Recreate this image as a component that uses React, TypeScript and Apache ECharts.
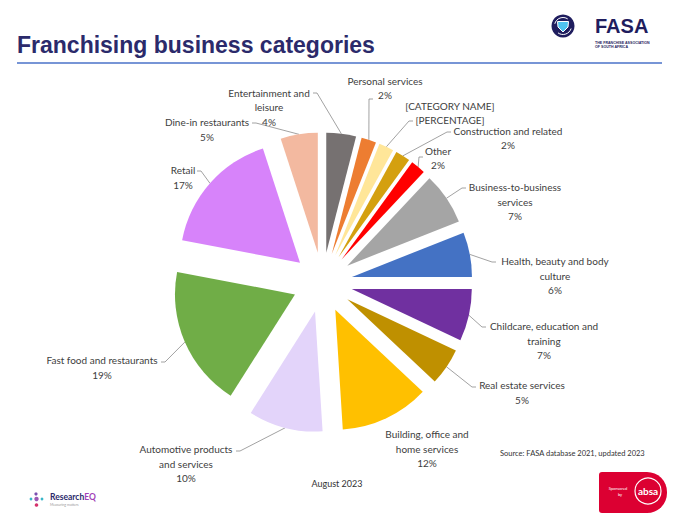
import React, { useEffect, useRef } from "react";
import * as echarts from "echarts";

// ---------- data ----------
const categories = [
  "Entertainment and leisure",
  "Personal services",
  "[CATEGORY NAME]",
  "Construction and related",
  "Other",
  "Business-to-business services",
  "Health, beauty and body culture",
  "Childcare, education and training",
  "Real estate services",
  "Building, office and home services",
  "Automotive products and services",
  "Fast food and restaurants",
  "Retail",
  "Dine-in restaurants",
];
const values = [4, 2, 2, 2, 2, 7, 6, 7, 5, 12, 10, 19, 17, 5];
const labelNames = [
  "Entertainment and\nleisure",
  "Personal services",
  "[CATEGORY NAME]",
  "Construction and related",
  "Other",
  "Business-to-business\nservices",
  "Health, beauty and body\nculture",
  "Childcare, education and\ntraining",
  "Real estate services",
  "Building, office and\nhome services",
  "Automotive products\nand services",
  "Fast food and restaurants",
  "Retail",
  "Dine-in restaurants",
];
const colors = [
  "#767171", "#ED7D31", "#FFE699", "#D4A00F", "#FF0000", "#A5A5A5", "#4472C4",
  "#7030A0", "#BF9000", "#FFC000", "#E3D4FA", "#70AD47", "#D783FA", "#F3B9A0",
];
// label layout: [centreX, topY, leaderEndX, leaderEndY] (no leader when null)
const labelPlacement: (number | null)[][] = [
  [269, 85.5, 313, 93],
  [385, 73.5, 373, 99],
  [450, 98.5, 413, 121],
  [508, 123.5, 451, 132],
  [438, 143.5, 423, 157],
  [515, 180, 466, 188],
  [555, 254, 496, 262],
  [544, 319, 486, 327],
  [522, 378, 476, 387],
  [427, 427, null, null],
  [186, 442, 236, 451],
  [102, 353, 161, 362],
  [183, 163, 197, 171],
  [207, 115, 252, 123],
];

const CX = 322.5;
const CY = 282.5;
const R = 120;
const OFFSET = 30;

const FONT = "Lato, 'Noto Sans', sans-serif";

export default function App() {
  const ref = useRef<HTMLDivElement>(null);

  useEffect(() => {
    if (!ref.current) return;
    const chart = echarts.init(ref.current, undefined, { renderer: "svg" });
    const total = values.reduce((a, b) => a + b, 0);

    // one pie series per exploded slice, shifted along its own mid-angle
    const series = categories.map((name, i) => {
      let cum = 0;
      for (let j = 0; j < i; j++) cum += values[j];
      const mid = ((cum + values[i] / 2) / total) * 2 * Math.PI;
      const dx = OFFSET * Math.sin(mid);
      const dy = -OFFSET * Math.cos(mid);
      const ax = CX + (R + OFFSET) * Math.sin(mid);
      const ay = CY - (R + OFFSET) * Math.cos(mid);
      const p = labelPlacement[i];
      const hasLine = p[2] != null;
      return {
        type: "pie",
        name,
        center: [CX + dx, CY + dy],
        radius: R,
        startAngle: 90 - (cum / total) * 360,
        clockwise: true,
        avoidLabelOverlap: false,
        emphasis: { disabled: true },
        itemStyle: { borderWidth: 0 },
        label: {
          show: true,
          position: "outside",
          fontFamily: FONT,
          fontSize: 10,
          lineHeight: 14.5,
          color: "#404040",
          align: "center",
          formatter: () => {
            const pct = name === "[CATEGORY NAME]" ? "[PERCENTAGE]" : values[i] + "%";
            return labelNames[i] + "\n" + pct;
          },
        },
        labelLine: {
          show: hasLine,
          length: 10,
          length2: 10,
          lineStyle: { color: "#8a8a8a", width: 0.8 },
        },
        labelLayout: (params: any) => {
          if (params.dataIndex !== 0) return {};
          const res: any = {
            x: p[0],
            y: p[1],
            align: "center",
            verticalAlign: "top",
          };
          if (hasLine) {
            const s = Math.sign(ax - (p[2] as number));
            res.labelLinePoints = [
              [ax, ay],
              [(p[2] as number) + 4 * s, p[3]],
              [p[2], p[3]],
            ];
          }
          return res;
        },
        data: [
          { name, value: values[i], itemStyle: { color: colors[i] } },
          {
            name: "",
            value: total - values[i],
            itemStyle: { color: "rgba(0,0,0,0)" },
            label: { show: false },
            labelLine: { show: false },
            tooltip: { show: false },
          },
        ],
      };
    });

    const option: any = {
      animation: false,
      backgroundColor: "#ffffff",
      series,
      graphic: [
        {
          type: "text",
          x: 17,
          y: 45,
          style: {
            text: "Franchising business categories",
            font: "bold 23px 'Liberation Sans', Arial, sans-serif",
            fill: "#2B2A6B",
            verticalAlign: "middle",
          },
        },
        {
          type: "line",
          shape: { x1: 17, y1: 63, x2: 662, y2: 63 },
          style: { stroke: "#4A72C8", lineWidth: 1.5 },
        },
        // FASA logo
        { type: "circle", shape: { cx: 563, cy: 26, r: 11.5 }, style: { fill: "#1F1D5E" } },
        {
          type: "arc",
          shape: { cx: 563, cy: 26, r: 8.5, startAngle: 0.3, endAngle: 2.2 },
          style: { stroke: "#ffffff", lineWidth: 1, fill: "none" },
        },
        {
          type: "arc",
          shape: { cx: 563, cy: 26, r: 8.5, startAngle: 3.4, endAngle: 5.3 },
          style: { stroke: "#ffffff", lineWidth: 1, fill: "none" },
        },
        {
          type: "polygon",
          shape: { points: [[557.5, 21.5], [568.5, 21.5], [568, 27], [563, 32], [558, 27]] },
          style: { fill: "#4FC3F0", stroke: "#ffffff", lineWidth: 1 },
        },
        {
          type: "text",
          x: 595,
          y: 26,
          style: {
            text: "FASA",
            font: "bold 20px 'Liberation Sans', Arial, sans-serif",
            fill: "#1F1D5E",
            verticalAlign: "middle",
          },
        },
        {
          type: "text",
          x: 595,
          y: 41,
          style: {
            text: "THE FRANCHISE ASSOCIATION\nOF SOUTH AFRICA",
            font: "bold 3.6px 'Liberation Sans', Arial, sans-serif",
            lineHeight: 4,
            fill: "#1F1D5E",
          },
        },
        // footer texts
        {
          type: "text",
          x: 337,
          y: 483,
          style: {
            text: "August 2023",
            font: "9px " + FONT,
            fill: "#333333",
            align: "center",
            verticalAlign: "middle",
          },
        },
        {
          type: "text",
          x: 500,
          y: 453,
          style: {
            text: "Source: FASA database 2021, updated 2023",
            font: "7.5px " + FONT,
            fill: "#333333",
            verticalAlign: "middle",
          },
        },
        // ResearchEQ logo
        { type: "circle", shape: { cx: 36, cy: 494, r: 1.6 }, style: { fill: "#7B4FB0" } },
        { type: "circle", shape: { cx: 31, cy: 499, r: 1.4 }, style: { fill: "#38B6C9" } },
        { type: "circle", shape: { cx: 42, cy: 499, r: 1.4 }, style: { fill: "#38B6C9" } },
        { type: "circle", shape: { cx: 36.5, cy: 499, r: 2.2 }, style: { fill: "#9B59B6" } },
        { type: "circle", shape: { cx: 36.5, cy: 505, r: 1.8 }, style: { fill: "#D6336C" } },
        {
          type: "text",
          x: 50,
          y: 497,
          style: {
            text: "{a|Research}{b|EQ}",
            verticalAlign: "middle",
            rich: {
              a: { font: "bold 8.5px " + FONT, fill: "#2B2A6B" },
              b: { font: "bold 8.5px " + FONT, fill: "#A23FB8" },
            },
          },
        },
        {
          type: "text",
          x: 50,
          y: 505,
          style: { text: "Measuring matters", font: "3.5px " + FONT, fill: "#999999", verticalAlign: "middle" },
        },
        // absa sponsor badge
        {
          type: "rect",
          shape: { x: 599, y: 472, width: 68, height: 41, r: [3, 20, 20, 3] },
          style: { fill: "#DC0032" },
        },
        {
          type: "text",
          x: 618,
          y: 488,
          style: { text: "Sponsored", font: "4px " + FONT, fill: "#ffffff", align: "center", verticalAlign: "middle" },
        },
        {
          type: "text",
          x: 620,
          y: 494,
          style: { text: "by", font: "4px " + FONT, fill: "#ffffff", align: "center", verticalAlign: "middle" },
        },
        {
          type: "circle",
          shape: { cx: 648, cy: 491, r: 13 },
          style: { fill: "none", stroke: "#ffffff", lineWidth: 1.2 },
        },
        {
          type: "text",
          x: 648,
          y: 491,
          style: {
            text: "absa",
            font: "bold 10px " + FONT,
            fill: "#ffffff",
            align: "center",
            verticalAlign: "middle",
          },
        },
      ],
    };
    chart.setOption(option);
    return () => chart.dispose();
  }, []);

  return (
    <div
      ref={ref}
      style={{ position: "fixed", left: 0, top: 0, width: 696, height: 522, background: "#fff" }}
    />
  );
}
